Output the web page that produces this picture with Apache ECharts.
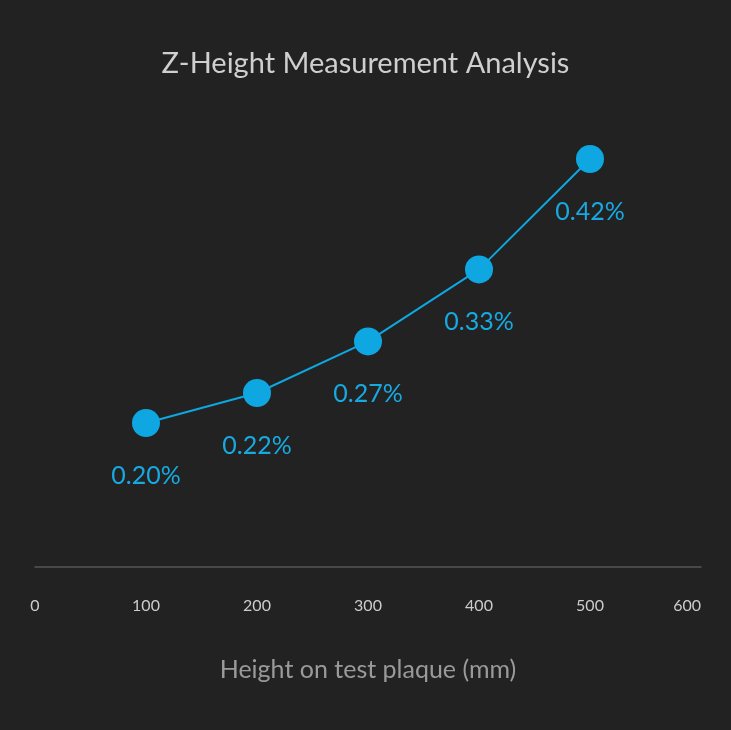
<!DOCTYPE html>
<html>
<head>
<meta charset="utf-8">
<script src="https://cdn.jsdelivr.net/npm/echarts@6/dist/echarts.min.js"></script>
<style>
  html, body { margin: 0; padding: 0; background: #222222; }
  #chart { width: 731px; height: 730px; }
</style>
</head>
<body>
<div id="chart"></div>
<script>
// 数据
var heights = [100, 200, 300, 400, 500];            // 测试板高度 mm
var deviation = [0.20, 0.225, 0.268, 0.328, 0.42];  // 偏差 %
var pointLabels = ['0.20%', '0.22%', '0.27%', '0.33%', '0.42%'];
var xTicks = [0, 100, 200, 300, 400, 500, 600];

var chart = echarts.init(document.getElementById('chart'));

var seriesData = heights.map(function (h, i) {
  return [h, deviation[i]];
});

var option = {
  backgroundColor: '#222222',
  title: {
    text: 'Z-Height Measurement Analysis',
    left: 'center',
    top: 44,
    textStyle: {
      color: '#cfcfcf',
      fontSize: 29,
      fontWeight: 'normal',
      fontFamily: 'Lato'
    }
  },
  grid: {
    left: 35,
    right: 30,
    top: 123,
    bottom: 163
  },
  xAxis: {
    type: 'value',
    min: xTicks[0],
    max: xTicks[xTicks.length - 1],
    interval: 100,
    name: 'Height on test plaque (mm)',
    nameLocation: 'middle',
    nameGap: 90,
    nameTextStyle: {
      color: '#9a9a9a',
      fontSize: 25,
      fontFamily: 'Lato'
    },
    axisLine: { show: true, lineStyle: { color: '#555555', width: 1.5 } },
    axisTick: { show: false },
    splitLine: { show: false },
    axisLabel: {
      color: '#cccccc',
      fontSize: 16,
      fontFamily: 'Lato',
      margin: 31,
      alignMaxLabel: 'right'
    }
  },
  yAxis: {
    type: 'value',
    min: 0.08,
    max: 0.45,
    show: false
  },
  series: [{
    type: 'line',
    data: seriesData,
    symbol: 'circle',
    symbolSize: 28,
    itemStyle: { color: '#0fa7e1' },
    lineStyle: { color: '#0fa7e1', width: 2 },
    label: {
      show: true,
      position: 'bottom',
      distance: 26,
      color: '#17a9e1',
      fontSize: 25,
      fontFamily: 'Lato',
      formatter: function (p) { return pointLabels[p.dataIndex]; }
    }
  }]
};

chart.setOption(option);
</script>
</body>
</html>
